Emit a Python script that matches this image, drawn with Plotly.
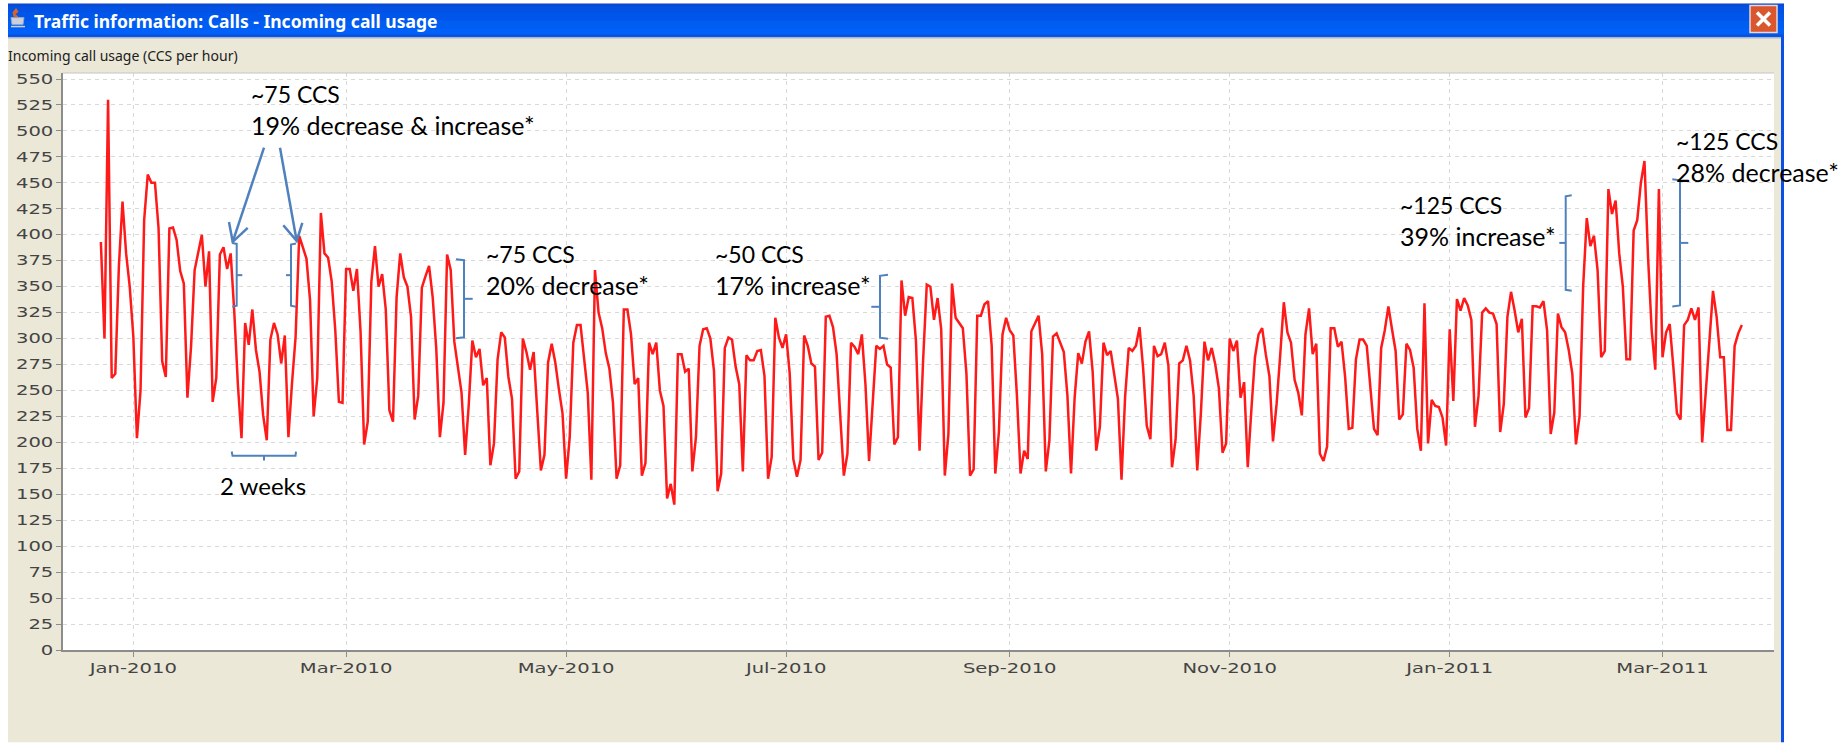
import pandas as pd
import plotly.graph_objects as go

WINDOW_TITLE = "Traffic information: Calls - Incoming call usage"
CHART_TITLE = "Incoming call usage (CCS per hour)"
START_DATE = "2009-12-23 12:00"
Y_TICKS = list(range(0, 551, 25))

usage_dec_feb = [393,300,530,262,266,370,432,382,350,302,204,250,414,458,450,450,406,278,263,406,407,395,365,353,243,292,366,383,400,350,384,239,262,381,388,367,382,325,255,204,315,294,328,289,268,226,202,299,315,304,276,303,205,257,302,399,389,377,337,225,262,421,382,378,355,308,239,238,367]
usage_mar_may = [367,346,367,307,198,220,355,389,350,362,328,231,220,340,382,359,350,321,222,245,349,360,370,340,290,205,238,381,366,297,270,248,188,236,298,282,290,255,262,178,199,280,306,301,263,242,165,172,300,287,270,287,230,173,188,277,295,277,251,228,165,205,296,313,313,280,248,164,366,325,310,286,271,238,165,178,328,328,304,256,262,168,180,296,285,296,250]
usage_jun_aug = [235,146,160,140,285,285,268,271,172,205,293,309,310,300,269,153,170,291,301,299,273,256,172,284,279,279,288,289,264,165,186,320,301,291,304,266,184,167,183,303,293,276,273,183,190,321,322,311,285,231,168,189,296,292,285,304,256,182,240,293,290,293,275,272,198,205,356,322,340,339,298,192,280,352]
usage_aug_nov = [350,318,339,309,168,208,353,320,315,310,266,168,174,322,322,333,336,293,170,210,304,320,308,303,245,170,192,184,307,314,322,285,172,202,302,305,295,287,245,170,243,286,276,297,307,268,192,215,296,284,288,266,242,164,244,291,288,293,311,271,216,203,293,283,285,296,274,176,203,276,279,293,279,245,173,228,297]
usage_nov_jan = [279,291,275,252,190,199,300,288,298,243,258,176,231,282,304,310,285,264,201,237,284,335,306,296,260,248,226,304,329,285,295,189,182,196,310,310,292,297,263,213,214,280,299,299,293,256,213,207,291,308,331,309,288,222,227,295,289,272,213,192,334,199,241,235,234,224,197,309,240,338,327,339,332,318,215]
usage_feb_mar = [245,325,329,325,324,314,210,237,321,345,327,306,319,224,233,331,331,330,336,308,208,229,324,311,306,289,266,198,225,350,416,389,399,366,282,288,444,420,433,382,350,280,280,404,414,450,471,378,308,270,444,282,306,314,273,228,222,313,318,329,318,330,200,247,302,346,321,282,282,212,212,293,305,313]
usage = usage_dec_feb + usage_mar_may + usage_jun_aug + usage_aug_nov + usage_nov_jan + usage_feb_mar
dates = pd.date_range(START_DATE, periods=len(usage), freq="D")

W, H = 1841, 743
L, R, T, B = 63, 1774, 72.5, 650.5
BLUE = "#4f81bd"
BEIGE = "#ebe8d8"
TXT = "Lato"


def px(x):
    return (x - L) / (R - L)


def py(y):
    return (B - y) / (B - T)


def rect(x0, y0, x1, y1, fill):
    return dict(type="rect", xref="paper", yref="paper", x0=px(x0), x1=px(x1), y0=py(y0), y1=py(y1),
                fillcolor=fill, line=dict(width=0), layer="below")


def pth(points, color=BLUE, width=2, fill=None, layer="above"):
    d = "M " + " L ".join(f"{px(a):.5f},{py(b):.5f}" for a, b in points)
    if fill:
        d += " Z"
    return dict(type="path", xref="paper", yref="paper", path=d, layer=layer,
                line=dict(color=color, width=width), fillcolor=fill)


def bracket(stem, arm, top, bot, tick, tick_y):
    return [pth([(arm, top), (stem, top + 1), (stem, bot - 1), (arm, bot)]),
            pth([(stem, tick_y), (tick, tick_y)])]


shapes = [rect(8, 3, 1784, 743, BEIGE), rect(L, T, R, B, "#ffffff")]
shapes.append(rect(8, 36, 1784, 38, "#a9b6cf"))
bands = [(3, "#0a4bd6"), (6, "#0252e4"), (12, "#0055ea"), (20, "#005df2"), (28, "#0061fa"), (34, "#0a50d8")]
for y0, c in bands:
    shapes.append(rect(8, y0, 1784, 36, c))
shapes.append(rect(1781, 36, 1784, 743, "#0a4fe6"))
shapes.append(pth([(L, T), (R, T)], color="#c4c4c4", width=1))

# window close button
shapes.append(dict(type="rect", xref="paper", yref="paper", x0=px(1750), x1=px(1777), y0=py(5), y1=py(32),
                   fillcolor="#d9562e", line=dict(color="#e9d8d0", width=1.5), layer="above"))
shapes.append(pth([(1757, 12), (1770, 25)], color="#ffffff", width=3.5))
shapes.append(pth([(1770, 12), (1757, 25)], color="#ffffff", width=3.5))

# title-bar cup icon
shapes.append(pth([(11, 17), (24, 17), (23, 24), (12, 24)], color="#9aa3bd", width=1, fill="#c9cfdd"))
shapes.append(pth([(16, 8), (18, 11), (15, 14), (18, 16), (14, 16), (13, 12)], color="#d8642a", width=1, fill="#d8642a"))
shapes.append(pth([(11, 26), (25, 26)], color="#c9cfdd", width=1.5))

# brackets and arrows
shapes += bracket(236.7, 232.3, 242.7, 306.7, 242.3, 275)
shapes += bracket(291, 296, 243.3, 306.7, 286, 275)
shapes += bracket(464, 456, 259, 338.3, 472.7, 298.7)
shapes += bracket(880, 888, 274.7, 338.7, 871.3, 306.7)
shapes += bracket(1565.7, 1571.7, 195, 290.7, 1559.3, 242.7)
shapes += bracket(1680, 1672.3, 179, 306.3, 1688.3, 242.7)
shapes.append(pth([(231.7, 451.7), (232.5, 456), (295.5, 456), (296, 451.7)]))
shapes.append(pth([(264, 456), (264, 460.7)]))
shapes.append(pth([(264, 147.3), (232.7, 241.7)], width=2.5))
shapes.append(pth([(229, 221.7), (232.7, 241.7), (247.7, 227.7)], width=2.5))
shapes.append(pth([(280, 147.3), (296.7, 240.7)], width=2.5))
shapes.append(pth([(283.3, 225), (296.7, 240.7), (302.3, 222.7)], width=2.5))


def note(x, y, text, size=23, color="#000000", family=TXT, anchor="left"):
    return dict(xref="paper", yref="paper", x=px(x), y=py(y), text=text, showarrow=False,
                xanchor=anchor, yanchor="middle", align="left", borderpad=0,
                font=dict(family=family, size=size, color=color))


annotations = [
    note(33, 20, f"<b>{WINDOW_TITLE}</b>", size=17.5, color="#ffffff", family="Noto Sans"),
    note(7, 55, CHART_TITLE, size=14, color="#202020", family="Noto Sans"),
    note(249.5, 94, "~75 CCS"),
    note(249.5, 125, "19% decrease &amp; increase*", size=25),
    note(484.5, 254, "~75 CCS"),
    note(484.5, 285, "20% decrease*", size=25),
    note(713.5, 254, "~50 CCS"),
    note(713.5, 285, "17% increase*", size=25),
    note(1398.5, 204.7, "~125 CCS"),
    note(1398.5, 236, "39% increase*", size=25),
    note(1675, 140.7, "~125 CCS"),
    note(1675, 172, "28% decrease*", size=25),
    note(263, 486, "2 weeks", size=24, anchor="center"),
]

fig = go.Figure(go.Scatter(x=dates, y=usage, mode="lines", line=dict(color="#ff1a1a", width=2.5), hoverinfo="skip"))
fig.update_layout(
    width=W, height=H, autosize=False, showlegend=False,
    margin=dict(l=L, r=W - R, t=T, b=H - B, pad=0),
    paper_bgcolor="#ffffff", plot_bgcolor="#ffffff",
    shapes=shapes, annotations=annotations,
    xaxis=dict(type="date", range=["2009-12-13", "2011-04-01 10:00"], tick0="2010-01-01 12:00", dtick="M2",
               tickformat="%b-%Y", showgrid=True, gridcolor="#d9d9d9", griddash="4px,4px", gridwidth=1,
               showline=True, linecolor="#8c8c8c", linewidth=2, ticks="outside", ticklen=5, tickcolor="#8c8c8c",
               tickfont=dict(family="DejaVu Sans", size=13.5, color="#444444"), zeroline=False),
    yaxis=dict(range=[0, 555.8], tickmode="array", tickvals=Y_TICKS, ticktext=[str(v) for v in Y_TICKS],
               showgrid=True, gridcolor="#d9d9d9", griddash="4px,4px", gridwidth=1,
               showline=True, linecolor="#8c8c8c", linewidth=2, ticks="outside", ticklen=5, tickcolor="#8c8c8c",
               tickfont=dict(family="DejaVu Sans", size=13.5, color="#444444"), zeroline=False),
)
stretch_ticks = (
    "document.body.style.margin='0';document.documentElement.style.overflow='hidden';"
    "document.querySelectorAll('.xtick text,.ytick text').forEach(function(t){"
    "var x=parseFloat(t.getAttribute('x'))||0;var o=t.getAttribute('transform')||'';"
    "t.setAttribute('transform',o+' translate('+x+' 0) scale(1.45 1) translate('+(-x)+' 0)');});"
)
fig.write_html("out.html", config=dict(displayModeBar=False), post_script=stretch_ticks)
